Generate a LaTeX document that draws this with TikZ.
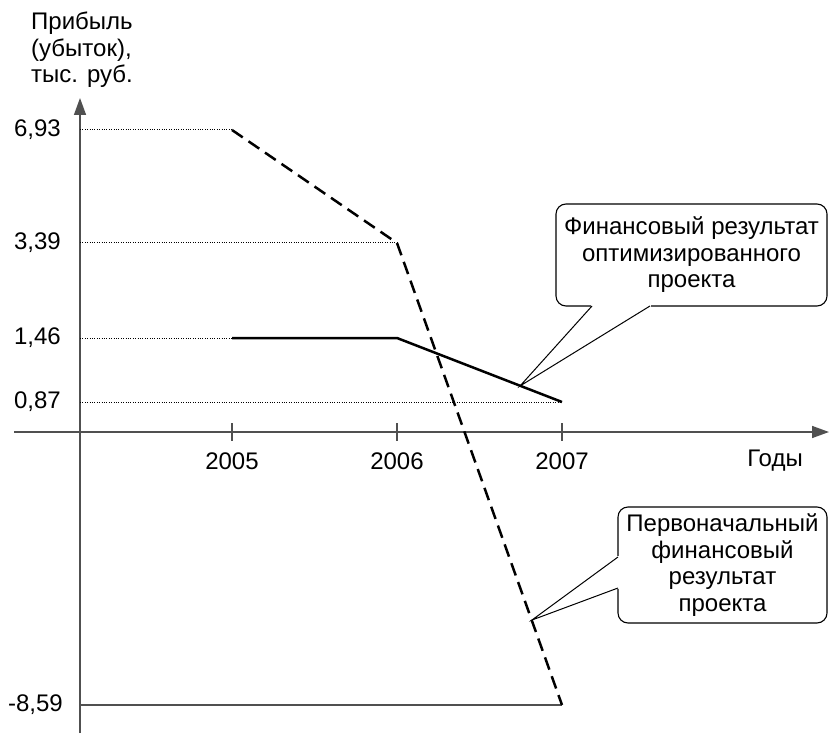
\documentclass[tikz,border=0pt]{standalone}
\usepackage{fontspec}
\setmainfont{Liberation Sans}
\usetikzlibrary{arrows.meta}
\definecolor{axisgray}{HTML}{505050}
\begin{document}
\begin{tikzpicture}[x=1pt,y=-1pt,
  font=\fontsize{24}{26.5}\selectfont,
  axisline/.style={draw=axisgray,line width=1.5pt},
  axisarrow/.style={axisline,-{Triangle[length=17pt,width=12pt]}},
  guide/.style={draw=black,line width=1pt,dash pattern=on 1pt off 1.4pt},
  optline/.style={draw=black,line width=2.5pt},
  origline/.style={draw=black,line width=2.5pt,dash pattern=on 13pt off 7pt},
  lbl/.style={inner sep=0pt},
  callout/.style={draw=black,line width=1.1pt,rounded corners=10pt,align=center,inner sep=0pt,fill=white},
  pointer/.style={draw=black,line width=1pt,line join=miter}]
\useasboundingbox (0,0) rectangle (829,735);
% axes
\coordinate (yb) at (80,733);
\coordinate (yt) at (80,98);
\coordinate (xl) at (14,432);
\coordinate (xr) at (829,432);
\draw[axisarrow] (yb) -- (yt);
\draw[axisarrow] (xl) -- (xr);
% ticks
\coordinate (t5a) at (232,423); \coordinate (t5b) at (232,441);
\coordinate (t6a) at (397,423); \coordinate (t6b) at (397,441);
\coordinate (t7a) at (562,423); \coordinate (t7b) at (562,441);
\draw[axisline] (t5a) -- (t5b);
\draw[axisline] (t6a) -- (t6b);
\draw[axisline] (t7a) -- (t7b);
% data points
\coordinate (a1) at (232,130);
\coordinate (a2) at (397,243);
\coordinate (a3) at (562,705);
\coordinate (b1) at (232,338);
\coordinate (b2) at (397,338);
\coordinate (b3) at (562,402);
\coordinate (y693) at (80,130);
\coordinate (y339) at (80,243);
\coordinate (y146) at (80,338);
\coordinate (y087) at (80,402);
\coordinate (y859) at (80,705);
% guides
\draw[guide] (y693) -- (a1);
\draw[guide] (y339) -- (a2);
\draw[guide] (y146) -- (b1);
\draw[guide] (y087) -- (b3);
\draw[axisline] (y859) -- (a3);
% labels
\node[lbl,anchor=north west,align=left] (title) at (31,12) {Прибыль\\(убыток),\\тыс. руб.};
\node[lbl,anchor=east] (l693) at (61,130) {6,93};
\node[lbl,anchor=east] (l339) at (61,243) {3,39};
\node[lbl,anchor=east] (l146) at (61,338) {1,46};
\node[lbl,anchor=east] (l087) at (61,402) {0,87};
\node[lbl,anchor=east] (l859) at (63,705) {-8,59};
\node[lbl] (x5) at (232,461) {2005};
\node[lbl] (x6) at (397,461) {2006};
\node[lbl] (x7) at (562,461) {2007};
\node[lbl] (xg) at (775,461) {Годы};
% callouts
\node[callout,minimum width=271pt,minimum height=102pt] (c1) at (691.5,255) {Финансовый результат\\оптимизированного\\проекта};
\node[callout,minimum width=209pt,minimum height=116pt] (c2) at (722.5,565) {Первоначальный\\финансовый\\результат\\проекта};
\coordinate (p1) at (520,386);
\coordinate (p2) at (532,620);
\coordinate (c1a) at (592,306);
\coordinate (c1b) at (650,306);
\coordinate (c2a) at (618,557);
\coordinate (c2b) at (618,588);
\fill[white] (591,303.5) rectangle (651,308.5);
\fill[white] (615.5,556) rectangle (620.5,589);
\draw[pointer] (c1a) -- (p1) -- (c1b);
\draw[pointer] (c2a) -- (p2) -- (c2b);
% data lines
\draw[origline] (a1) -- (a2) -- (a3);
\draw[optline] (b1) -- (b2) -- (b3);
\end{tikzpicture}
\end{document}
